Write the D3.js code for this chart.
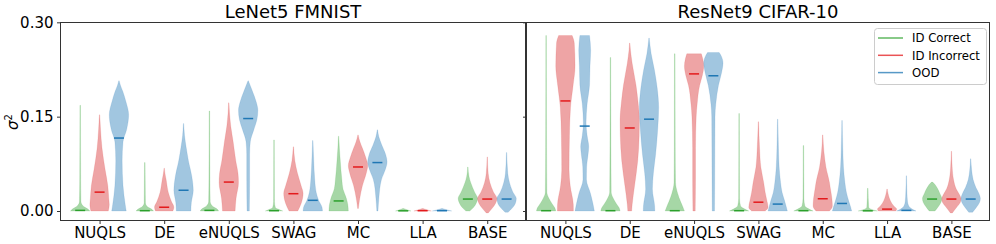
<!DOCTYPE html>
<html>
<head>
<meta charset="utf-8">
<script src="https://cdn.jsdelivr.net/npm/d3@7.9.0/dist/d3.min.js"></script>
<style>
  body { margin: 0; background: #fff; }
  svg { display: block; font-family: "DejaVu Sans", sans-serif; }
</style>
</head>
<body>
<svg id="chart" width="996" height="244"></svg>
<script>
const methods = ['NUQLS', 'DE', 'eNUQLS', 'SWAG', 'MC', 'LLA', 'BASE'];
const groups = ['ID Correct', 'ID Incorrect', 'OOD'];
const titles = ['LeNet5 FMNIST', 'ResNet9 CIFAR-10'];
const yTicks = [0, 0.15, 0.30];

// violin outlines: [value, relative half width]
const lenetCorrect = [
  [[0,1],[0.003,0.8],[0.008,0.3],[0.015,0.08],[0.05,0.05],[0.168,0.03]],
  [[0,0.9],[0.003,0.7],[0.007,0.25],[0.013,0.07],[0.04,0.05],[0.077,0.03]],
  [[0,0.95],[0.003,0.8],[0.008,0.3],[0.015,0.08],[0.05,0.05],[0.159,0.03]],
  [[0,0.9],[0.002,0.6],[0.005,0.15],[0.015,0.05],[0.113,0.03]],
  [[0,1],[0.01,0.95],[0.02,0.8],[0.035,0.45],[0.05,0.33],[0.08,0.17],[0.1,0.08],[0.119,0.02]],
  [[0,0.8],[0.002,0.4],[0.004,0.05]],
  [[0,0.2],[0.005,0.55],[0.012,0.85],[0.02,1],[0.03,0.7],[0.045,0.3],[0.055,0.12],[0.07,0.02]]
];
const lenetIncorrect = [
  [[0,0.9],[0.01,1],[0.02,0.95],[0.04,0.85],[0.065,0.58],[0.1,0.25],[0.13,0.1],[0.153,0.02]],
  [[0,0.9],[0.006,1],[0.015,0.75],[0.03,0.42],[0.05,0.2],[0.06,0.08],[0.068,0.02]],
  [[0,0.65],[0.02,0.75],[0.045,1],[0.06,0.95],[0.08,0.72],[0.11,0.45],[0.135,0.2],[0.155,0.08],[0.172,0.02]],
  [[0,0.45],[0.012,0.8],[0.028,1],[0.04,0.8],[0.06,0.42],[0.08,0.15],[0.102,0.02]],
  [[0.004,0.04],[0.017,0.15],[0.04,0.45],[0.06,0.85],[0.072,1],[0.085,0.8],[0.1,0.45],[0.11,0.2],[0.121,0.02]],
  [[0,0.9],[0.002,0.45],[0.004,0.05]],
  [[-0.003,0.1],[0.005,0.55],[0.012,0.85],[0.02,1],[0.03,0.65],[0.045,0.28],[0.06,0.1],[0.086,0.02]]
];
const lenetOOD = [
  [[0,0.75],[0.01,0.65],[0.04,0.42],[0.08,0.33],[0.11,0.42],[0.13,0.8],[0.153,1],[0.175,0.7],[0.19,0.4],[0.2,0.15],[0.207,0.02]],
  [[0,0.75],[0.013,0.8],[0.033,1],[0.055,0.85],[0.08,0.5],[0.1,0.28],[0.12,0.1],[0.139,0.02]],
  [[0,0.12],[0.05,0.15],[0.09,0.15],[0.11,0.22],[0.13,0.6],[0.145,0.9],[0.16,1],[0.175,0.8],[0.188,0.5],[0.2,0.2],[0.207,0.02]],
  [[0,1],[0.006,0.95],[0.017,0.6],[0.03,0.35],[0.05,0.2],[0.08,0.1],[0.112,0.02]],
  [[0,0.06],[0.02,0.15],[0.05,0.42],[0.065,0.8],[0.078,1],[0.09,0.85],[0.105,0.45],[0.118,0.15],[0.129,0.02]],
  [[0,1],[0.002,0.5],[0.004,0.05]],
  [[-0.002,0.15],[0.005,0.6],[0.012,0.9],[0.02,1],[0.03,0.65],[0.045,0.3],[0.06,0.12],[0.093,0.02]]
];
const resnetCorrect = [
  [[0,1],[0.005,0.9],[0.012,0.6],[0.02,0.3],[0.03,0.08],[0.1,0.05],[0.279,0.03]],
  [[0,1],[0.005,0.9],[0.012,0.6],[0.02,0.3],[0.03,0.08],[0.1,0.05],[0.244,0.03]],
  [[0,1],[0.006,0.85],[0.015,0.6],[0.028,0.3],[0.045,0.08],[0.1,0.05],[0.25,0.03]],
  [[0,1],[0.003,0.6],[0.008,0.15],[0.02,0.05],[0.155,0.03]],
  [[0,1],[0.003,0.6],[0.008,0.15],[0.02,0.05],[0.104,0.03]],
  [[0,1],[0.002,0.5],[0.006,0.1],[0.036,0.03]],
  [[0,0.3],[0.006,0.6],[0.013,0.9],[0.02,1],[0.028,0.8],[0.036,0.55],[0.042,0.3],[0.046,0.05]]
];
const resnetIncorrect = [
  [[0,0.83],[0.01,0.82],[0.04,0.5],[0.065,0.38],[0.12,0.42],[0.165,0.53],[0.2,0.8],[0.23,1],[0.267,0.92],[0.279,0.7]],
  [[0,0.2],[0.01,0.25],[0.04,0.5],[0.08,0.83],[0.12,0.98],[0.145,1],[0.175,0.85],[0.2,0.65],[0.235,0.25],[0.255,0.08],[0.267,0.02]],
  [[0,0.12],[0.05,0.15],[0.1,0.15],[0.15,0.22],[0.17,0.32],[0.2,0.58],[0.215,0.85],[0.23,1],[0.242,0.9],[0.25,0.75]],
  [[0,0.7],[0.006,1],[0.015,0.9],[0.03,0.7],[0.045,0.55],[0.07,0.25],[0.1,0.12],[0.142,0.02]],
  [[0,0.7],[0.008,1],[0.02,0.95],[0.035,0.8],[0.045,0.7],[0.07,0.33],[0.095,0.12],[0.121,0.02]],
  [[0,0.9],[0.003,1],[0.007,0.75],[0.012,0.5],[0.02,0.25],[0.028,0.1],[0.035,0.02]],
  [[-0.003,0.1],[0.006,0.55],[0.013,0.9],[0.019,1],[0.027,0.8],[0.035,0.5],[0.05,0.22],[0.07,0.08],[0.095,0.02]]
];
const resnetOOD = [
  [[0,1],[0.012,0.85],[0.028,0.6],[0.05,0.18],[0.07,0.2],[0.09,0.35],[0.102,0.42],[0.12,0.25],[0.14,0.14],[0.17,0.25],[0.2,0.5],[0.23,0.55],[0.255,0.62],[0.279,0.5]],
  [[0,0.6],[0.008,0.58],[0.035,0.35],[0.06,0.45],[0.09,0.68],[0.13,0.9],[0.165,1],[0.195,0.85],[0.225,0.55],[0.25,0.22],[0.275,0.02]],
  [[0,0.12],[0.05,0.14],[0.15,0.17],[0.17,0.25],[0.2,0.53],[0.22,0.85],[0.235,1],[0.247,0.8],[0.252,0.6]],
  [[0,1],[0.006,0.9],[0.017,0.7],[0.03,0.45],[0.045,0.3],[0.07,0.15],[0.1,0.08],[0.146,0.02]],
  [[0,1],[0.006,0.9],[0.017,0.67],[0.03,0.45],[0.045,0.3],[0.07,0.15],[0.1,0.08],[0.144,0.02]],
  [[0,1],[0.003,0.6],[0.008,0.25],[0.015,0.12],[0.03,0.06],[0.056,0.02]],
  [[-0.002,0.2],[0.006,0.6],[0.013,0.9],[0.02,1],[0.028,0.85],[0.037,0.55],[0.05,0.25],[0.065,0.1],[0.083,0.02]]
];

// medians per method
const lenetMedCorrect = [0.001, 0.0005, 0.001, 0.0005, 0.016, 0.0003, 0.019];
const lenetMedIncorrect = [0.030, 0.006, 0.046, 0.0275, 0.070, 0.0005, 0.019];
const lenetMedOOD = [0.116, 0.033, 0.147, 0.017, 0.077, 0.0005, 0.019];
const resnetMedCorrect = [0.0005, 0.0005, 0.0005, 0.0005, 0.0005, 0.0003, 0.019];
const resnetMedIncorrect = [0.175, 0.132, 0.218, 0.014, 0.0195, 0.003, 0.019];
const resnetMedOOD = [0.135, 0.146, 0.215, 0.011, 0.012, 0.001, 0.019];

const fillColors = ['#2ca02c', '#d62728', '#1f77b4'];
const lineColors = ['#2ca02c', '#e31a1c', '#1f77b4'];

const panels = [
  { title: titles[0], shapes: [lenetCorrect, lenetIncorrect, lenetOOD], meds: [lenetMedCorrect, lenetMedIncorrect, lenetMedOOD], left: 60, right: 526 },
  { title: titles[1], shapes: [resnetCorrect, resnetIncorrect, resnetOOD], meds: [resnetMedCorrect, resnetMedIncorrect, resnetMedOOD], left: 526, right: 990 }
];

const svg = d3.select('#chart');
const plotTop = 22, plotBottom = 220;
const y = d3.scaleLinear().domain([-0.0143, 0.3005]).range([plotBottom, plotTop]);
const offsets = [-0.3, 0, 0.3];
const halfW = 0.15;

panels.forEach((p, pi) => {
  const x = d3.scaleLinear().domain([0.3875, 7.6]).range([p.left, p.right]);
  const g = svg.append('g');

  p.shapes.forEach((series, gi) => {
    series.forEach((pts, mi) => {
      const c = mi + 1 + offsets[gi];
      const area = d3.area()
        .curve(d3.curveMonotoneY)
        .y(d => y(d[0]))
        .x0(d => x(c - d[1] * halfW))
        .x1(d => x(c + d[1] * halfW));
      g.append('path')
        .attr('d', area(pts))
        .attr('fill', fillColors[gi])
        .attr('fill-opacity', 0.42)
        .attr('stroke', fillColors[gi])
        .attr('stroke-opacity', 0.12)
        .attr('stroke-width', 1);
    });
  });

  p.meds.forEach((meds, gi) => {
    meds.forEach((m, mi) => {
      const c = mi + 1 + offsets[gi];
      g.append('line')
        .attr('x1', x(c) - 5).attr('x2', x(c) + 5)
        .attr('y1', y(m)).attr('y2', y(m))
        .attr('stroke', lineColors[gi])
        .attr('stroke-width', 1.5);
    });
  });

  // frame
  g.append('rect')
    .attr('x', p.left + 0.5).attr('y', plotTop + 0.5)
    .attr('width', p.right - p.left - 1).attr('height', plotBottom - plotTop)
    .attr('fill', 'none').attr('stroke', '#333').attr('stroke-width', 1);

  const yAxis = d3.axisLeft(y).tickValues(yTicks).tickSize(3.5).tickPadding(3.5)
    .tickFormat(pi === 0 ? d3.format('.2f') : () => '');
  const ya = g.append('g').attr('transform', `translate(${p.left + 0.5},0)`).call(yAxis);
  ya.select('.domain').remove();
  ya.selectAll('text').attr('font-size', 15).attr('fill', '#000').attr('font-family', 'DejaVu Sans');
  ya.selectAll('line').attr('stroke', '#333');

  const xAxis = d3.axisBottom(x).tickValues(d3.range(1, 8)).tickSize(3.5).tickPadding(3)
    .tickFormat((d, i) => methods[i]);
  const xa = g.append('g').attr('transform', `translate(0,${plotBottom + 0.5})`).call(xAxis);
  xa.select('.domain').remove();
  xa.selectAll('text').attr('font-size', 15).attr('fill', '#000').attr('font-family', 'DejaVu Sans');
  xa.selectAll('line').attr('stroke', '#333');

  svg.append('text')
    .attr('x', (p.left + p.right) / 2).attr('y', 18)
    .attr('text-anchor', 'middle')
    .attr('font-size', 18)
    .text(p.title);
});

// y label
const yl = svg.append('text')
  .attr('transform', 'translate(18,122) rotate(-90)')
  .attr('text-anchor', 'middle')
  .attr('font-size', 15);
yl.append('tspan').attr('font-style', 'italic').text('σ');
yl.append('tspan').attr('font-size', 10).attr('dy', -6).text('2');

// legend
const lg = svg.append('g').attr('transform', 'translate(874,28)');
lg.append('rect')
  .attr('x', 0.5).attr('y', 0.5).attr('width', 112).attr('height', 56).attr('rx', 3)
  .attr('fill', '#fff').attr('fill-opacity', 0.8)
  .attr('stroke', '#ccc');
groups.forEach((name, i) => {
  const ry = 10 + i * 17.3;
  lg.append('line')
    .attr('x1', 4).attr('x2', 29).attr('y1', ry).attr('y2', ry)
    .attr('stroke', lineColors[i]).attr('stroke-opacity', 0.75).attr('stroke-width', 1.5);
  lg.append('text')
    .attr('x', 38).attr('y', ry + 4.2)
    .attr('font-size', 11.7)
    .text(name);
});
</script>
</body>
</html>
